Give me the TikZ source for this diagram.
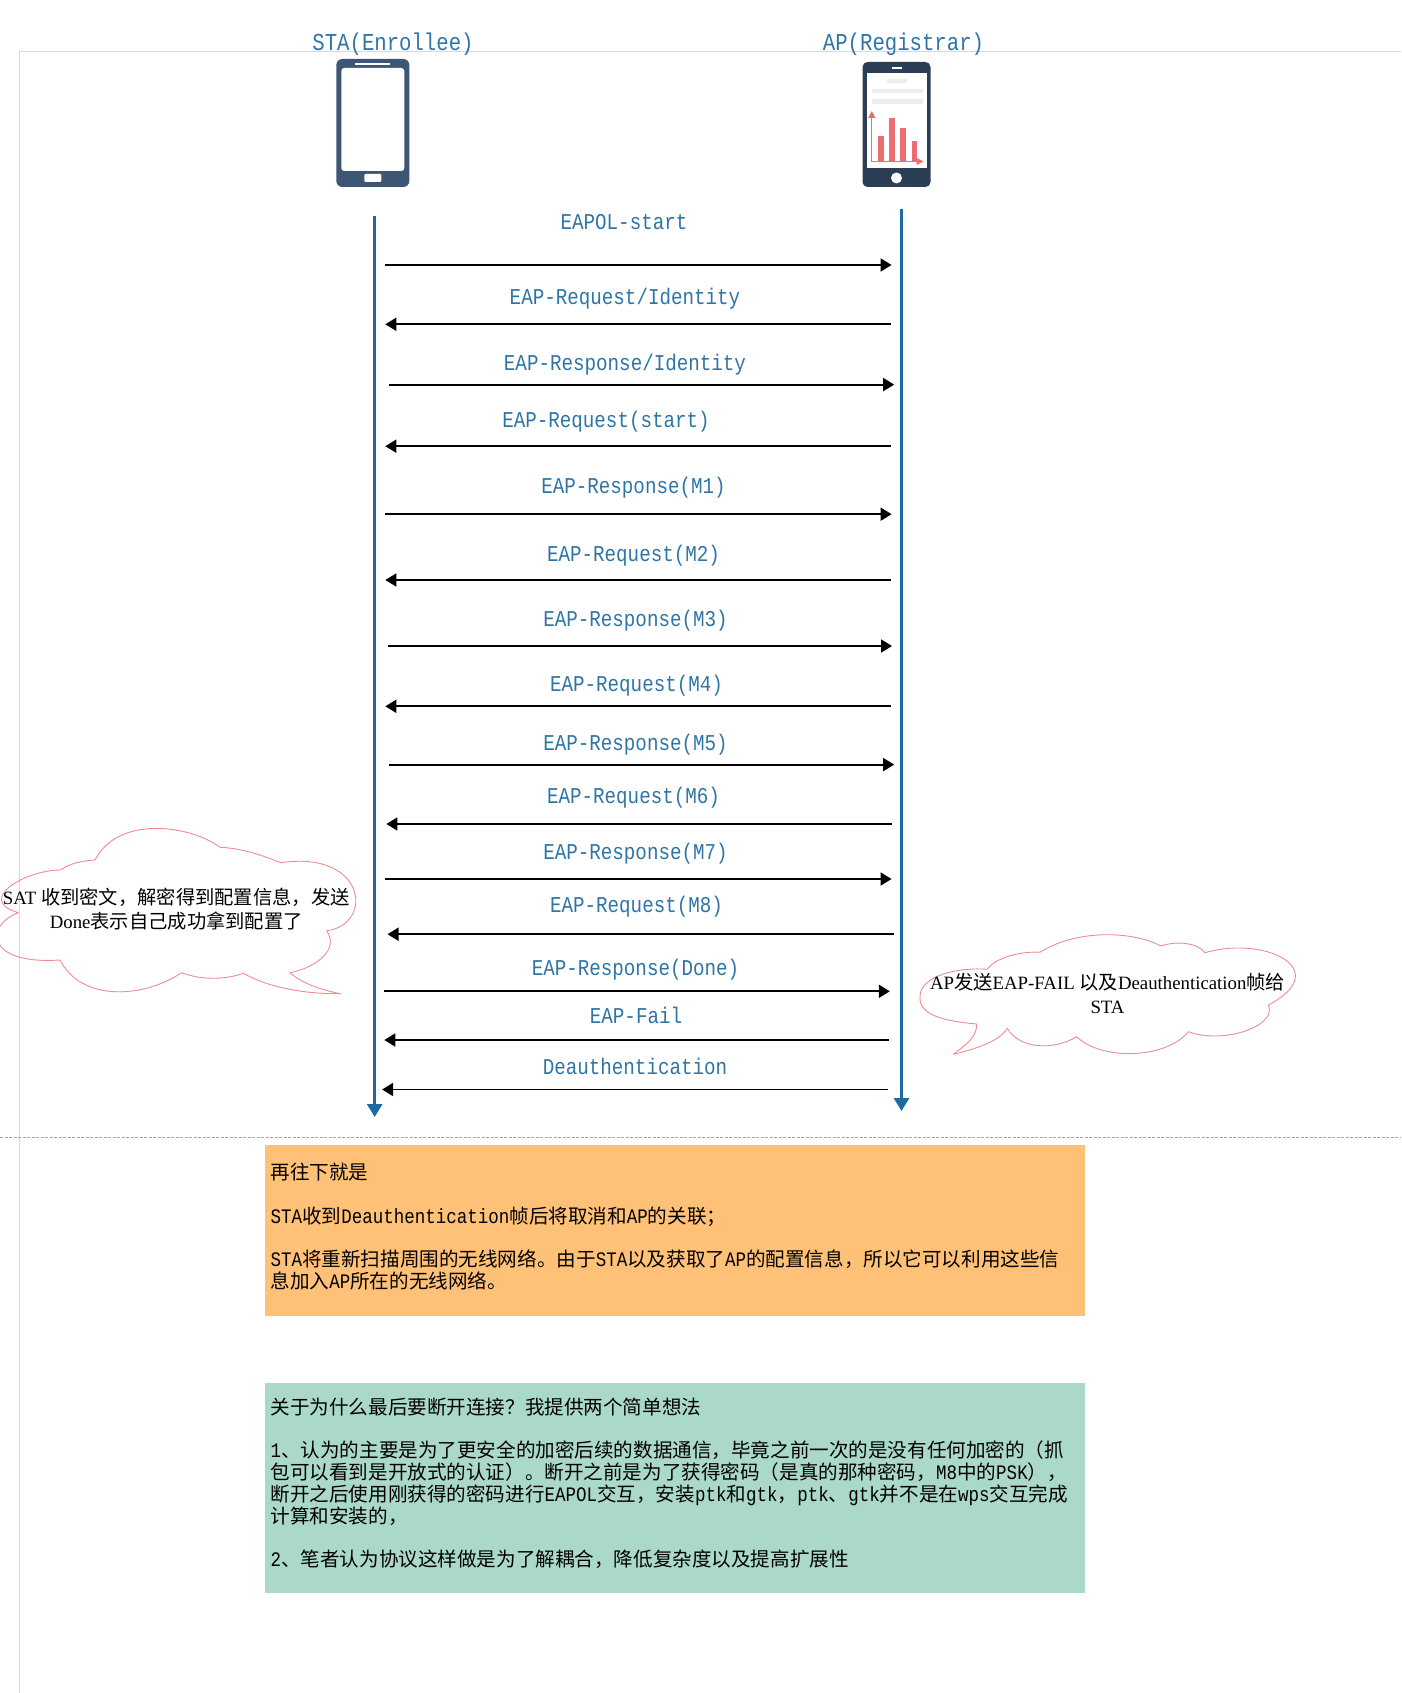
\documentclass[tikz,border=0pt]{standalone}
\usepackage{fontspec}
\usetikzlibrary{arrows.meta}
\setmainfont{Liberation Serif}
\newfontfamily\cjkfont[Scale=0.95]{Noto Sans CJK SC}
\newfontfamily\monofont[FakeStretch=0.85]{Liberation Mono}
\newcommand{\cn}[1]{{\cjkfont #1}}
\newcommand{\cc}[1]{{\cjkfont\fontsize{20.3}{24.2}\selectfont #1}}
\definecolor{lifeblue}{HTML}{1F6B9F}
\definecolor{labelblue}{HTML}{2E75A6}
\definecolor{phonelight}{HTML}{3D5673}
\definecolor{phonedark}{HTML}{2B3E55}
\definecolor{chartred}{HTML}{EC6D71}
\definecolor{cloudred}{HTML}{EE8C90}
\definecolor{boxorange}{HTML}{FFC177}
\definecolor{boxgreen}{HTML}{ABD9C9}

\begin{document}
\begin{tikzpicture}[x=1pt,y=-1pt]
\tikzset{
  pageline/.style={draw=black!15,line width=0.8pt},
  lifeline/.style={draw=lifeblue,line width=3pt,-{Triangle[length=13pt,width=15pt]}},
  message/.style={draw=black,line width=1.8pt,-{Triangle[length=11pt,width=13pt]}},
  msglabel/.style={inner sep=0pt,text=labelblue,font=\monofont\fontsize{22.6}{24}\selectfont},
  title/.style={inner sep=0pt,text=labelblue,font=\monofont\fontsize{24.3}{26}\selectfont},
  cloudline/.style={draw=cloudred,line width=0.9pt,line join=round},
  cloudtext/.style={inner sep=0pt,align=center,font=\fontsize{18.8}{24.2}\selectfont},
  notebox/.style={anchor=north west,minimum width=820pt,inner xsep=5.5pt,inner ysep=11pt,text width=809pt,align=left,
    font=\monofont\fontsize{20.6}{21.9}\selectfont},
}
\useasboundingbox (0,0) rectangle (1401,1693);
% page rules
\draw[pageline] (1401,51.5) -- (19.5,51.5) -- (19.5,1693);
\draw[draw=black!35,line width=0.8pt,dash pattern=on 3pt off 1.5pt] (0,1137) -- (1401,1137);
% titles
\node[title] (t_sta) at (393,44.5) {STA(Enrollee)};
\node[title] (t_ap) at (903.5,44.5) {AP(Registrar)};
% left phone
\fill[phonelight,rounded corners=6pt] (336.3,59) rectangle (409.3,187);
\fill[white,rounded corners=3pt] (341.3,68) rectangle (404.3,171);
\fill[white] (355.3,63) rectangle (390.3,65);
\fill[white,rounded corners=1pt] (364.3,174) rectangle (381.3,182);
% right phone
\fill[phonedark,rounded corners=5pt] (862.5,62) rectangle (930.5,187);
\fill[white] (866.5,73) rectangle (926.5,168);
\fill[white] (891.5,67.5) rectangle (901.5,68.8);
\fill[white] (896.5,178) circle (5.5);
\fill[black!7] (886.5,79) rectangle (906.5,83);
\fill[black!7] (871.5,89) rectangle (922.5,93);
\fill[black!7] (871.5,99) rectangle (922.5,104);
\fill[chartred] (877.5,136) rectangle (883.5,161);
\fill[chartred] (888.5,118) rectangle (894.5,161);
\fill[chartred] (899.5,128) rectangle (905.5,161);
\fill[chartred] (911.5,141) rectangle (916.5,161);
\draw[chartred,line width=1pt] (871.8,117) -- (871.8,161.5) -- (917.5,161.5);
\fill[chartred] (871.8,111) -- (875.5,118) -- (868.1,118) -- cycle;
\fill[chartred] (923.5,161.5) -- (916.5,158) -- (916.5,165) -- cycle;
% lifelines
\coordinate (sta_top) at (374.7,216);
\coordinate (sta_end) at (374.7,1117);
\coordinate (ap_top) at (901.5,209);
\coordinate (ap_end) at (901.5,1111);
\draw[lifeline] (sta_top) -- (sta_end);
\draw[lifeline] (ap_top) -- (ap_end);
% message ends
\coordinate (m1a) at (385.3,265);     \coordinate (m1b) at (891.6,265);
\coordinate (m2a) at (890.5,324.3);   \coordinate (m2b) at (385.3,324.3);
\coordinate (m3a) at (388.6,384.6);   \coordinate (m3b) at (894.2,384.6);
\coordinate (m4a) at (890.5,446.2);   \coordinate (m4b) at (385.3,446.2);
\coordinate (m5a) at (385.3,514.2);   \coordinate (m5b) at (891.6,514.2);
\coordinate (m6a) at (890.5,580);     \coordinate (m6b) at (385.3,580);
\coordinate (m7a) at (387.5,646);     \coordinate (m7b) at (892,646);
\coordinate (m8a) at (890.5,706.3);   \coordinate (m8b) at (385.3,706.3);
\coordinate (m9a) at (388.6,764.6);   \coordinate (m9b) at (894.2,764.6);
\coordinate (m10a) at (891.6,824);    \coordinate (m10b) at (386.4,824);
\coordinate (m11a) at (385.3,879);    \coordinate (m11b) at (891.6,879);
\coordinate (m12a) at (893.7,934.2);  \coordinate (m12b) at (387.5,934.2);
\coordinate (m13a) at (384.3,991.3);  \coordinate (m13b) at (889.8,991.3);
\coordinate (m14a) at (888.8,1040);   \coordinate (m14b) at (384.3,1040);
\coordinate (m15a) at (887.8,1089.5); \coordinate (m15b) at (382.1,1089.5);
\foreach \m in {1,...,15}
  \draw[message] (m\m a) -- (m\m b);
% message labels
\node[msglabel] (l1) at (624,222) {EAPOL-start};
\node[msglabel] (l2) at (625,299) {EAP-Request/Identity};
\node[msglabel] (l3) at (625,365) {EAP-Response/Identity};
\node[msglabel] (l4) at (606,421.5) {EAP-Request(start)};
\node[msglabel] (l5) at (633.5,488) {EAP-Response(M1)};
\node[msglabel] (l6) at (633.5,555.5) {EAP-Request(M2)};
\node[msglabel] (l7) at (635.5,620.5) {EAP-Response(M3)};
\node[msglabel] (l8) at (636.5,686) {EAP-Request(M4)};
\node[msglabel] (l9) at (635.5,745) {EAP-Response(M5)};
\node[msglabel] (l10) at (633.5,798) {EAP-Request(M6)};
\node[msglabel] (l11) at (635.5,854) {EAP-Response(M7)};
\node[msglabel] (l12) at (636.5,907) {EAP-Request(M8)};
\node[msglabel] (l13) at (635.5,970) {EAP-Response(Done)};
\node[msglabel] (l14) at (636,1015) {EAP-Fail};
\node[msglabel] (l15) at (635,1066.5) {Deauthentication};
% clouds
\draw[cloudline] (340.7,993.7) .. controls (320,990) and (300,982) .. (290,972.7)
  .. controls (315,968) and (340,950) .. (326.7,930.7)
  .. controls (374,925) and (367,850) .. (280.7,862.7)
  .. controls (262,855) and (240,848) .. (220,847.3)
  .. controls (190,825) and (118,815) .. (95,860)
  .. controls (82,861) and (70,863) .. (60.7,870)
  .. controls (25,870) and (-25,900) .. (18.3,912.7)
  .. controls (-15,925) and (-15,965) .. (60,960)
  .. controls (80,1000) and (140,1000) .. (181.7,972.7)
  .. controls (200,980) and (225,980) .. (243.3,973.3)
  .. controls (270,988) and (305,994) .. cycle;
\node[cloudtext] (c_sta) at (176.3,909) {SAT \cc{收到密文^^^^ff0c解密得到配置信息^^^^ff0c发送}\\
  Done\cc{表示自己成功拿到配置了}};
\draw[cloudline] (953.3,1054.3) .. controls (965,1045) and (977,1038) .. (976.7,1024)
  .. controls (955,1022) and (918,1018) .. (920,996.7)
  .. controls (920,975) and (960,967) .. (987.3,969.3)
  .. controls (995,958) and (1020,951) .. (1040,952.3)
  .. controls (1075,930) and (1130,930) .. (1161,946)
  .. controls (1175,941) and (1197,942) .. (1205,952.7)
  .. controls (1265,935) and (1335,970) .. (1268.3,1005)
  .. controls (1278,1025) and (1225,1045) .. (1188.3,1031.7)
  .. controls (1165,1060) and (1100,1060) .. (1076.7,1036.7)
  .. controls (1055,1050) and (1020,1050) .. (1007.3,1028.3)
  .. controls (1000,1040) and (980,1048) .. cycle;
\node[cloudtext] (c_ap) at (1107.5,993.5) {AP\cc{发送}EAP-FAIL \cc{以及}Deauthentication\cc{帧给}\\
  STA};
% note boxes
\node[notebox,fill=boxorange,minimum height=171pt] (n_next) at (265,1145) {\cn{再往下就是}\\[21.2pt]
  STA\cn{收到}Deauthentication\cn{帧后将取消和}AP\cn{的关联^^^^ff1b}\\[21.2pt]
  STA\cn{将重新扫描周围的无线网络。由于}STA\cn{以及获取了}AP\cn{的配置信息^^^^ff0c所以它可以利用这些信}\\
  \cn{息加入}AP\cn{所在的无线网络。}\rule[-10pt]{0pt}{10pt}};
\node[notebox,fill=boxgreen,minimum height=210pt] (n_why) at (265,1383) {\cn{关于为什么最后要断开连接^^^^ff1f我提供两个简单想法}\\[21.6pt]
  1\cn{、认为的主要是为了更安全的加密后续的数据通信^^^^ff0c毕竟之前一次的是没有任何加密的^^^^ff08抓}\\
  \cn{包可以看到是开放式的认证^^^^ff09。断开之前是为了获得密码^^^^ff08是真的那种密码^^^^ff0c}M8\cn{中的}PSK\cn{^^^^ff09^^^^ff0c}\\
  \cn{断开之后使用刚获得的密码进行}EAPOL\cn{交互^^^^ff0c安装}ptk\cn{和}gtk\cn{^^^^ff0c}ptk\cn{、}gtk\cn{并不是在}wps\cn{交互完成}\\
  \cn{计算和安装的^^^^ff0c}\\[21.6pt]
  2\cn{、笔者认为协议这样做是为了解耦合^^^^ff0c降低复杂度以及提高扩展性}\rule[-12pt]{0pt}{12pt}};
\end{tikzpicture}
\end{document}
